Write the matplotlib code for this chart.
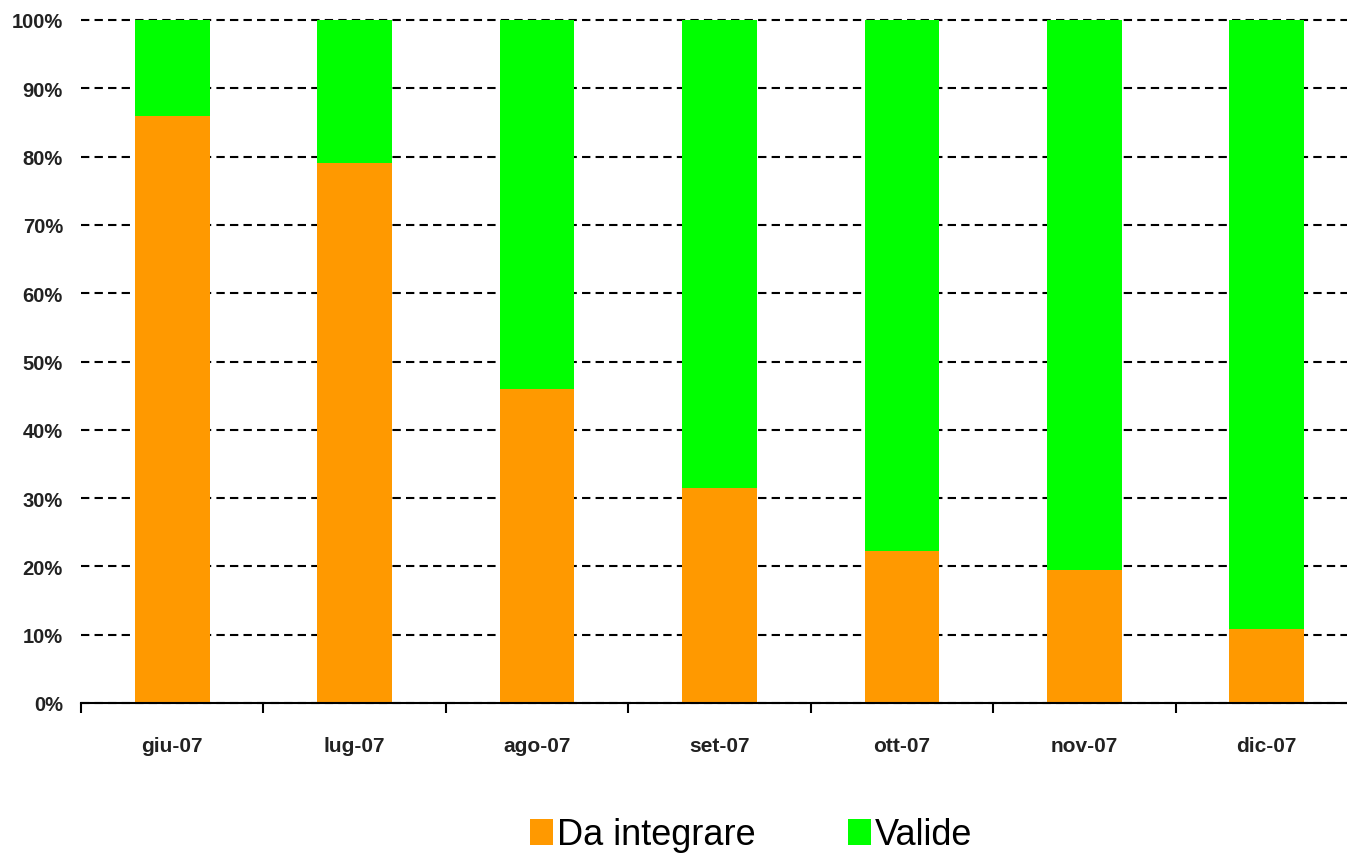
import numpy as np
import matplotlib.pyplot as plt
from matplotlib.ticker import FixedLocator, PercentFormatter

mesi = ['giu-07', 'lug-07', 'ago-07', 'set-07', 'ott-07', 'nov-07', 'dic-07']
da_integrare = [86, 79, 46, 31.5, 22.3, 19.5, 10.8]
valide = [100 - v for v in da_integrare]

plt.rcParams['font.family'] = ['Liberation Sans', 'DejaVu Sans']

fig = plt.figure(figsize=(13.47, 8.62), dpi=100)
ax = fig.add_axes([81 / 1347, 158 / 862, (1358 - 81) / 1347, (704 - 21) / 862])

x = np.arange(len(mesi))
w = 0.41
ax.bar(x, da_integrare, w, color='#FF9900', label='Da integrare', zorder=3)
ax.bar(x, valide, w, bottom=da_integrare, color='#00FF00', label='Valide', zorder=3)

ax.set_xlim(-0.5, len(mesi) - 0.5)
ax.set_ylim(0, 100)
ax.set_yticks(np.arange(0, 101, 10))
ax.yaxis.set_major_formatter(PercentFormatter(decimals=0))
ax.grid(axis='y', color='black', linestyle=(0, (4, 2.5)), linewidth=1.5, zorder=1)
ax.set_axisbelow(True)
for gl in ax.get_ygridlines():
    gl.set_clip_on(False)

ax.set_xticks(x)
ax.set_xticklabels(mesi)
ax.xaxis.set_minor_locator(FixedLocator(np.arange(-0.5, len(mesi), 1)))
ax.tick_params(axis='x', which='major', length=0, pad=24, labelsize=15)
ax.tick_params(axis='x', which='minor', length=7, width=1.5, direction='out')
ax.tick_params(axis='y', length=0, pad=13, labelsize=14.5)
for lab in ax.get_xticklabels() + ax.get_yticklabels():
    lab.set_fontweight('bold')
    lab.set_color('#222222')

for s in ['left', 'right', 'top']:
    ax.spines[s].set_visible(False)
ax.spines['bottom'].set_linewidth(1.5)
ax.spines['bottom'].set_zorder(4)

fig.legend(loc='center', bbox_to_anchor=(751 / 1347, 1 - 836 / 862), ncol=2,
           frameon=False, fontsize=26, handlelength=0.65, handleheight=0.7,
           handletextpad=0.1, columnspacing=2.55)

fig.savefig('out.png', dpi=100)
